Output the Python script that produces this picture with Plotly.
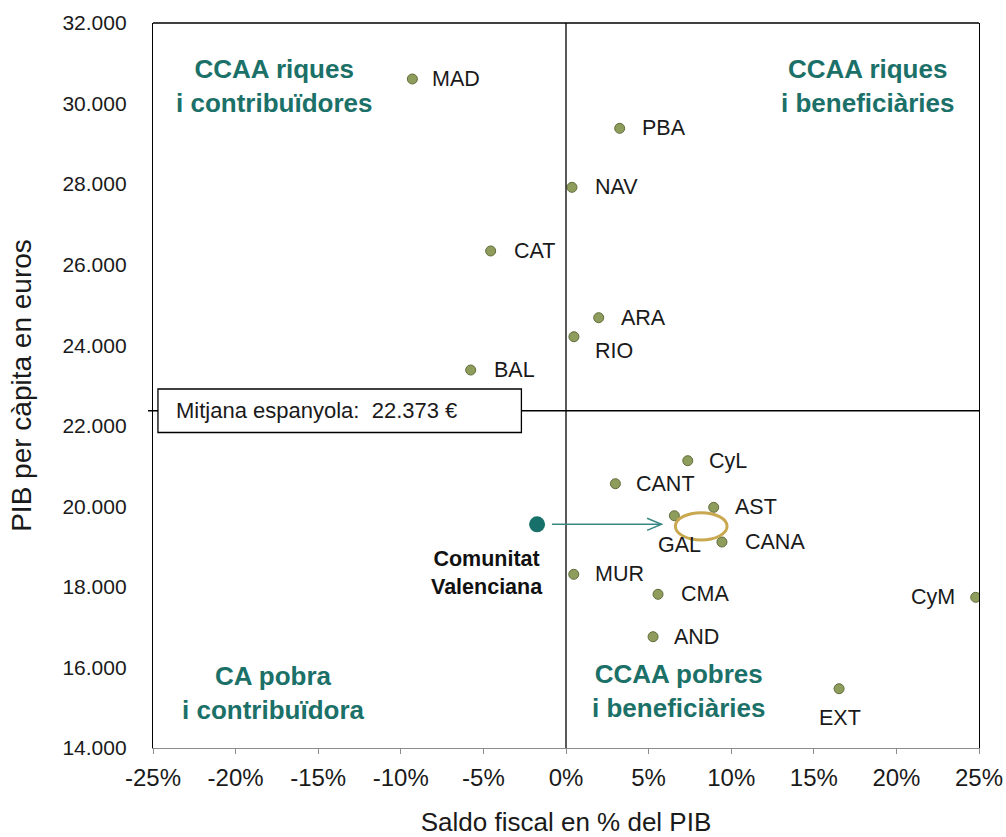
import plotly.graph_objects as go

# ---- data ----
regions = ["MAD", "PBA", "NAV", "CAT", "ARA", "RIO", "BAL", "CyL", "CANT",
           "AST", "GAL", "CANA", "MUR", "CMA", "AND", "EXT", "CyM"]
saldo_fiscal = [-9.3, 3.25, 0.36, -4.56, 1.98, 0.48, -5.77, 7.37, 2.99,
                8.94, 6.56, 9.44, 0.47, 5.57, 5.27, 16.53, 24.8]
pib_capita = [30610, 29385, 27920, 26340, 24683, 24211, 23384, 21133, 20562,
              19975, 19767, 19114, 18312, 17816, 16763, 15472, 17741]

cv_name = "Comunitat<br>Valenciana"
cv_saldo = -1.75
cv_pib = 19554

mitjana = 22373
mitjana_text = "Mitjana espanyola:  22.373 €"

x_ticks = [-25, -20, -15, -10, -5, 0, 5, 10, 15, 20, 25]
x_ticklabels = [f"{v}%" for v in x_ticks]

quadrants = [
    ("CCAA riques<br>i contribuïdores", -17.7, 30435),
    ("CCAA riques<br>i beneficiàries", 18.23, 30435),
    ("CA pobra<br>i contribuïdora", -17.7, 15373),
    ("CCAA pobres<br>i beneficiàries", 6.82, 15415),
]

# label placement (anchor, xshift px, yshift px)
placement = {
    "MAD": ("left", 18, 0), "PBA": ("left", 20, 0), "NAV": ("left", 21, 0),
    "CAT": ("left", 21, 0), "ARA": ("left", 20, 0), "RIO": ("left", 19, -14),
    "BAL": ("left", 21, 0), "CyL": ("left", 19, 0), "CANT": ("left", 19, 0),
    "AST": ("left", 19, 0), "GAL": ("center", 5, -29), "CANA": ("left", 21, 0),
    "MUR": ("left", 19, 0), "CMA": ("left", 21, 0), "AND": ("left", 19, 0),
    "EXT": ("center", 1, -29), "CyM": ("right", -19, 0),
}

FONT = "Liberation Sans, Arial, sans-serif"
TEAL = "#17706a"
QUAD = "#1b7068"

fig = go.Figure()
fig.add_trace(go.Scatter(
    x=saldo_fiscal, y=pib_capita, mode="markers",
    marker=dict(size=10, color="#8f9d5c", line=dict(color="#5f6b3a", width=1)),
    hoverinfo="text", text=regions, showlegend=False))
fig.add_trace(go.Scatter(
    x=[cv_saldo], y=[cv_pib], mode="markers",
    marker=dict(size=16, color=TEAL),
    hoverinfo="skip", showlegend=False))

anns = []
for name, xv, yv in zip(regions, saldo_fiscal, pib_capita):
    anc, xs, ys = placement[name]
    anns.append(dict(x=xv, y=yv, text=name, showarrow=False, xanchor=anc,
                     yanchor="middle", xshift=xs, yshift=ys,
                     font=dict(family=FONT, size=21.5, color="#1a1a1a")))
for txt, xv, yv in quadrants:
    anns.append(dict(x=xv, y=yv, text=f"<b>{txt}</b>", showarrow=False,
                     xanchor="center", yanchor="middle",
                     font=dict(family=FONT, size=26, color=QUAD)))
anns.append(dict(x=cv_saldo, y=cv_pib, text=f"<b>{cv_name}</b>", showarrow=False,
                 xanchor="center", yanchor="middle", xshift=-50, yshift=-49,
                 font=dict(family=FONT, size=21.5, color="#111111")))
anns.append(dict(x=-23.75, y=mitjana, text=mitjana_text, showarrow=False,
                 xanchor="left", yanchor="middle",
                 font=dict(family=FONT, size=22, color="#1a1a1a")))

shapes = [
    # top border
    dict(type="line", xref="paper", yref="paper", x0=0, x1=1, y0=1, y1=1,
         line=dict(color="black", width=1.3)),
    # vertical zero line
    dict(type="line", xref="x", yref="paper", x0=0, x1=0, y0=0, y1=1,
         line=dict(color="black", width=1.3)),
    # mean line
    dict(type="line", xref="paper", yref="y", x0=-0.006, x1=1, y0=mitjana, y1=mitjana,
         line=dict(color="black", width=1.3)),
    # mean box
    dict(type="rect", xref="x", yref="y", x0=-24.7, x1=-2.7,
         y0=mitjana - 540, y1=mitjana + 540,
         fillcolor="white", line=dict(color="black", width=1.3), layer="above"),
    # ellipse
    dict(type="circle", xref="x", yref="y", x0=6.62, x1=9.75, y0=19164, y1=19842,
         line=dict(color="#c9a850", width=3)),
    # arrow shaft
    dict(type="line", xref="x", yref="y", x0=cv_saldo + 0.9, x1=5.78,
         y0=cv_pib, y1=cv_pib, line=dict(color="#3a8883", width=1.5)),
    # arrow head (open chevron)
    dict(type="path", xref="x", yref="y",
         path=f"M 4.91,{cv_pib + 150} L 5.78,{cv_pib} L 4.91,{cv_pib - 150}",
         line=dict(color="#3a8883", width=1.5)),
]

fig.update_layout(
    width=1006, height=837,
    margin=dict(l=153, r=27, t=23, b=89),
    paper_bgcolor="white", plot_bgcolor="white",
    separators=",.",
    font=dict(family=FONT, color="#1a1a1a"),
    annotations=anns, shapes=shapes,
    xaxis=dict(range=[-25, 25], tickvals=x_ticks, ticktext=x_ticklabels,
               automargin=False, ticklabeloverflow="allow",
               showgrid=False, zeroline=False, showline=True, linecolor="#8c8c8c",
               linewidth=1.3, ticks="outside", ticklen=5, tickcolor="#8c8c8c",
               ticklabelstandoff=3,
               tickfont=dict(size=24, color="#1a1a1a"),
               title=dict(text="Saldo fiscal en % del PIB", standoff=22,
                          font=dict(size=26, color="#1a1a1a"))),
    yaxis=dict(range=[14000, 32000], dtick=2000, tickformat=",d",
               automargin=False, ticklabeloverflow="allow",
               showgrid=False, zeroline=False, showline=True, linecolor="black",
               linewidth=1.3, mirror=True, ticks="", ticklabelstandoff=21,
               tickfont=dict(size=21, color="#1a1a1a"),
               title=dict(text="PIB per càpita en euros", standoff=22,
                          font=dict(size=28, color="#1a1a1a"))),
)

# remove the default 8px page margin so the figure fills the window exactly
fig.write_html("out.html",
               config={"displayModeBar": False},
               post_script="document.body.style.margin='0';"
                           "document.body.style.overflow='hidden';")
